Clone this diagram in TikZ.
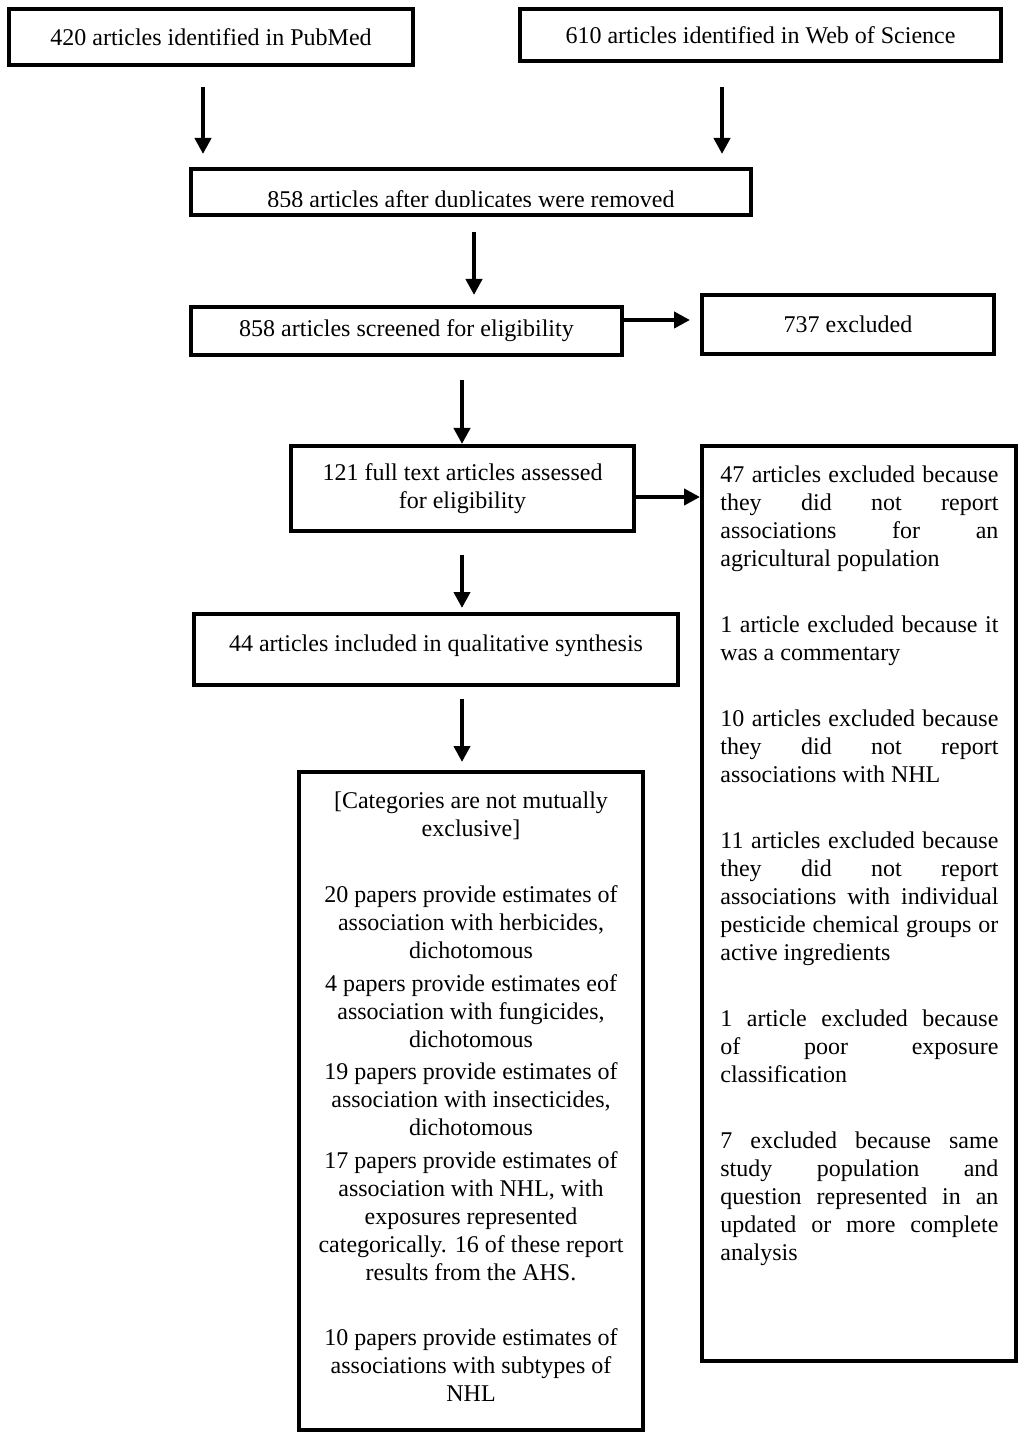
\documentclass[tikz,border=0pt]{standalone}
\usepackage{fontspec}
\setmainfont{Liberation Serif}
\usetikzlibrary{arrows.meta,calc}
\newcommand{\jline}[1]{\makebox[139pt][s]{#1}}
\begin{document}
\begin{tikzpicture}[x=0.5pt,y=-0.5pt,
  box/.style={draw,line width=2pt,inner sep=0pt,align=center,font=\fontsize{12}{14}\selectfont},
  txt/.style={inner sep=0pt,font=\fontsize{12}{14}\selectfont},
  arr/.style={line width=2pt,-{Triangle[length=8pt,width=8pt]}}]
\useasboundingbox[fill=white] (0,0) rectangle (1024,1438);

% boxes
\node[box,minimum width=202pt,minimum height=28pt] (pub) at (211,37) {420 articles identified in PubMed};
\node[box,minimum width=240.5pt,minimum height=26pt] (wos) at (760.5,35) {\raisebox{-1pt}{610 articles identified in Web of Science}};
\node[box,minimum width=280pt,minimum height=23pt] (dup) at (471,192) {};
\begin{scope}
  \clip ($(dup.north west)+(2,2)$) rectangle ($(dup.east)+(-2,15)$);
  \node[txt,anchor=base] (duptext) at (471,208) {858 articles after duplicates were removed};
\end{scope}
\node[box,minimum width=215.5pt,minimum height=24pt] (scr) at (406.5,331) {858 articles screened for eligibility};
\node[box,minimum width=146pt,minimum height=29.5pt] (exc) at (848,324.5) {737 excluded};
\node[box,minimum width=171.5pt,minimum height=42.5pt] (full) at (462.5,488.5) {121 full text articles assessed\\for eligibility};
\node[box,minimum width=157pt,minimum height=457.5pt] (rbox) at (859,903.5) {};
\node[box,minimum width=242pt,minimum height=35.5pt] (incl) at (436,649.5) {\raisebox{6pt}{44 articles included in qualitative synthesis}};
\node[box,minimum width=172pt,minimum height=329pt] (cat) at (471,1101) {};

% text of the right box (anchored at the baseline of its last line)
\node[txt,anchor=base west,align=left] (rtext) at (720,1260) {%
\jline{47 articles excluded because}\\
\jline{they did not report}\\
\jline{associations for an}\\
agricultural population\\[19pt]
\jline{1 article excluded because it}\\
was a commentary\\[19pt]
\jline{10 articles excluded because}\\
\jline{they did not report}\\
associations with NHL\\[19pt]
\jline{11 articles excluded because}\\
\jline{they did not report}\\
\jline{associations with individual}\\
\jline{pesticide chemical groups or}\\
active ingredients\\[19pt]
\jline{1 article excluded because}\\
\jline{of poor exposure}\\
classification\\[19pt]
\jline{7 excluded because same}\\
\jline{study population and}\\
\jline{question represented in an}\\
\jline{updated or more complete}\\
analysis};

% text of the categories box (anchored at the baseline of its last line)
\node[txt,anchor=base,align=center] (ctext) at (471,1401) {%
[Categories are not mutually\\
exclusive]\\[19pt]
20 papers provide estimates of\\
association with herbicides,\\
dichotomous\\[2.5pt]
4 papers provide estimates eof\\
association with fungicides,\\
dichotomous\\[2pt]
19 papers provide estimates of\\
association with insecticides,\\
dichotomous\\[2.5pt]
17 papers provide estimates of\\
association with NHL, with\\
exposures represented\\
categorically. 16 of these report\\
results from the AHS.\\[18.5pt]
10 papers provide estimates of\\
associations with subtypes of\\
NHL};

% connectors
\coordinate (d1) at ($(dup.north)+(0,-13)$);
\draw[arr] ($(pub.south)+(-8,20)$) coordinate (a1) -- (a1 |- d1);
\draw[arr] ($(wos.south)+(-38.5,24)$) coordinate (a2) -- (a2 |- d1);
\coordinate (d2) at ($(scr.north)+(0,-10)$);
\draw[arr] ($(dup.south)+(3,15)$) coordinate (a3) -- (a3 |- d2);
\coordinate (d3) at ($(exc.west)+(-10,0)$);
\draw[arr] ($(scr.east)+(0,-11)$) coordinate (a4) -- (a4 -| d3);
\draw[arr] ($(scr.south)+(55.5,23)$) coordinate (a5) -- (a5 |- full.north);
\draw[arr] ($(full.east)+(0,8.5)$) coordinate (a6) -- (a6 -| rbox.west);
\coordinate (d4) at ($(incl.north)+(0,-4)$);
\draw[arr] ($(full.south)+(-0.5,22)$) coordinate (a7) -- (a7 |- d4);
\coordinate (d5) at ($(cat.north)+(0,-8)$);
\draw[arr] ($(incl.south)+(26,12)$) coordinate (a8) -- (a8 |- d5);
\end{tikzpicture}
\end{document}
